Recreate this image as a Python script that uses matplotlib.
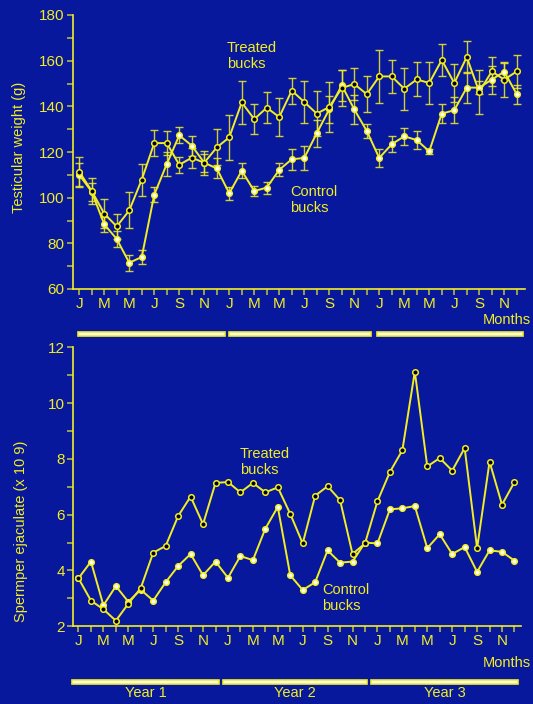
import matplotlib.pyplot as plt
import numpy as np
from matplotlib.patches import Rectangle
from matplotlib.ticker import MultipleLocator

plt.rcParams['font.family'] = ['Liberation Sans', 'DejaVu Sans']

BG = '#08189c'
YEL = '#f2ee22'
OLIVE = '#b8b44a'

# 36 months, Jan of year 1 to Dec of year 3
months = np.arange(36)
month_labels = ['J', '', 'M', '', 'M', '', 'J', '', 'S', '', 'N', ''] * 3
years = ['Year 1', 'Year 2', 'Year 3']

# testicular weight (g)
treated_w = [111.4, 102.9, 93.0, 87.4, 94.4, 107.9, 123.9, 123.9, 114.4, 117.5, 115.3, 122.0,
             126.4, 141.7, 134.4, 139.4, 135.3, 146.9, 141.9, 136.8, 139.7, 148.0, 149.8, 145.3,
             153.1, 153.1, 147.7, 151.8, 150.2, 160.3, 150.2, 161.6, 146.3, 155.3, 151.7, 155.3]
treated_w_err = [6.6, 5.8, 6.3, 5.4, 7.9, 7.0, 5.8, 5.4, 3.5, 4.4, 5.3, 7.9,
                 9.8, 9.5, 6.7, 6.7, 8.5, 5.7, 9.3, 10.0, 11.0, 7.9, 6.9, 7.9,
                 11.5, 7.4, 9.3, 7.4, 9.0, 6.9, 8.2, 7.2, 9.8, 6.4, 7.6, 7.4]
control_w = [110.0, 102.6, 88.3, 81.9, 71.5, 74.0, 101.3, 114.7, 127.3, 122.8, 115.3, 112.8,
             101.9, 111.8, 102.9, 104.4, 112.2, 116.8, 117.4, 128.2, 138.7, 149.2, 138.7, 129.2,
             117.4, 123.4, 126.9, 125.2, 120.3, 136.8, 138.3, 148.2, 148.2, 151.7, 155.2, 145.3]
control_w_err = [5.0, 4.0, 3.4, 3.5, 3.6, 3.1, 3.2, 5.1, 3.5, 4.4, 4.0, 4.4,
                 2.9, 3.2, 2.0, 2.6, 2.8, 4.5, 5.4, 5.8, 6.0, 6.7, 6.3, 3.1,
                 3.9, 3.4, 3.8, 4.1, 1.0, 4.1, 5.7, 6.7, 3.0, 6.1, 3.6, 4.1]

# sperm per ejaculate (x 10^9)
treated_s = [3.72, 2.92, 2.61, 2.20, 2.81, 3.37, 4.64, 4.88, 5.95, 6.65, 5.66, 7.14,
             7.17, 6.80, 7.14, 6.80, 6.98, 6.03, 4.97, 6.68, 7.02, 6.52, 4.59, 4.97,
             6.48, 7.53, 8.31, 11.13, 7.73, 8.03, 7.58, 8.39, 4.80, 7.90, 6.36, 7.17]
control_s = [3.72, 4.32, 2.75, 3.44, 2.88, 3.31, 2.92, 3.58, 4.16, 4.59, 3.83, 4.32,
             3.74, 4.52, 4.37, 5.50, 6.28, 3.83, 3.30, 3.58, 4.72, 4.28, 4.32, 5.00,
             4.97, 6.19, 6.23, 6.31, 4.80, 5.30, 4.59, 4.84, 3.95, 4.72, 4.67, 4.35]

W, H = 533, 704
fig = plt.figure(figsize=(W / 100, H / 100), dpi=100, facecolor=BG)


def px_axes(l, t, r, b):
    return fig.add_axes([l / W, 1 - b / H, (r - l) / W, (b - t) / H])


def style_axes(ax):
    ax.set_facecolor(BG)
    for s in ['top', 'right']:
        ax.spines[s].set_visible(False)
    for s in ['left', 'bottom']:
        ax.spines[s].set_color(YEL)
        ax.spines[s].set_linewidth(1.2)
    ax.tick_params(which='both', colors=OLIVE, labelcolor=YEL, width=1.2)
    ax.tick_params(axis='y', which='major', length=4, labelsize=11, pad=2)
    ax.tick_params(axis='y', which='minor', length=4)
    ax.tick_params(axis='x', length=4, labelsize=11, pad=1.5)
    ax.set_xticks(months)
    ax.set_xticklabels(month_labels)


def plot_series(ax, y, err, face):
    if err is not None:
        ax.errorbar(months, y, yerr=err, fmt='none', ecolor=YEL, elinewidth=1.0,
                    capsize=2.6, capthick=1.0, alpha=0.85, zorder=2)
    ax.plot(months, y, '-', color=YEL, lw=1.4, zorder=3)
    ax.plot(months, y, 'o', ms=4, mfc=face, mec=YEL, mew=1.1, zorder=4)


# ---- top panel: testicular weight
ax1 = px_axes(73, 15, 525, 289)
style_axes(ax1)
plot_series(ax1, control_w, control_w_err, 'white')
plot_series(ax1, treated_w, treated_w_err, 'black')
ax1.set_xlim(-0.5, 35.66)
ax1.set_ylim(60, 180)
ax1.yaxis.set_major_locator(MultipleLocator(20))
ax1.yaxis.set_minor_locator(MultipleLocator(10))
ax1.set_ylabel('Testicular weight (g)', color=YEL, fontsize=10.5)
ax1.yaxis.set_label_coords(-0.104, 0.518)
ax1.text(11.8, 162, 'Treated\nbucks', color=YEL, fontsize=10.5, linespacing=1.15, va='center')
ax1.text(16.9, 99, 'Control\nbucks', color=YEL, fontsize=10.5, linespacing=1.15, va='center')

# ---- bottom panel: sperm per ejaculate
ax2 = px_axes(73, 347.3, 520.7, 626.3)
style_axes(ax2)
plot_series(ax2, control_s, None, 'white')
plot_series(ax2, treated_s, None, 'black')
ax2.set_xlim(-0.44, 35.5)
ax2.set_ylim(2, 12)
ax2.yaxis.set_major_locator(MultipleLocator(2))
ax2.yaxis.set_minor_locator(MultipleLocator(1))
ax2.set_ylabel('Spermper ejaculate (x 10 9)', color=YEL, fontsize=10.5)
ax2.yaxis.set_label_coords(-0.1, 0.34)
ax2.text(12.96, 7.89, 'Treated\nbucks', color=YEL, fontsize=10.5, linespacing=1.15, va='center')
ax2.text(19.55, 3.01, 'Control\nbucks', color=YEL, fontsize=10.5, linespacing=1.15, va='center')

# "Months" captions
fig.text(531 / W, 1 - 320 / H, 'Months', color=YEL, fontsize=10.5, ha='right', va='center')
fig.text(531 / W, 1 - 663 / H, 'Months', color=YEL, fontsize=10.5, ha='right', va='center')

# year bars
top_bars = [(78, 225), (229, 371), (377, 523)]
bot_bars = [(72, 219), (223, 367), (371, 518)]
for (x0, x1) in top_bars:
    fig.add_artist(Rectangle((x0 / W, 1 - 336 / H), (x1 - x0) / W, 4 / H,
                             transform=fig.transFigure, facecolor='white',
                             edgecolor=YEL, lw=1.2))
for (x0, x1), name in zip(bot_bars, years):
    fig.add_artist(Rectangle((x0 / W, 1 - 684 / H), (x1 - x0) / W, 4 / H,
                             transform=fig.transFigure, facecolor='white',
                             edgecolor=YEL, lw=1.2))
    fig.text((x0 + x1) / 2 / W, 1 - 693 / H, name, color=YEL, fontsize=10.5,
             ha='center', va='center')

fig.savefig('out.png', dpi=100, facecolor=BG)
